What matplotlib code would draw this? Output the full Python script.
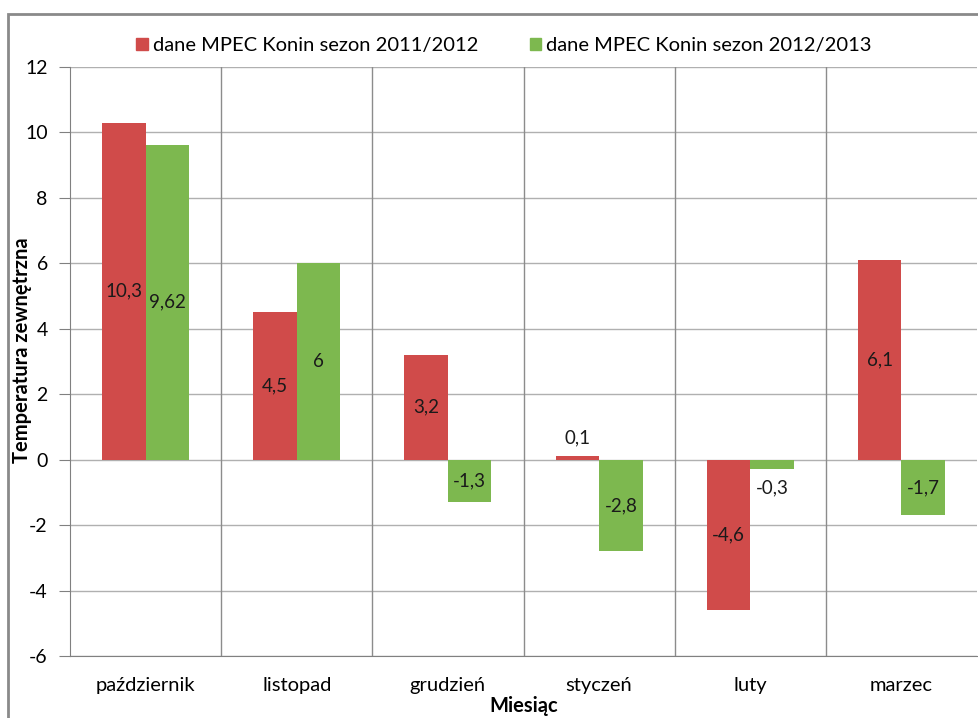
import matplotlib.pyplot as plt
from matplotlib.patches import Rectangle, Patch
import numpy as np

plt.rcParams['font.family'] = ['Lato', 'DejaVu Sans']

months = ['październik', 'listopad', 'grudzień', 'styczeń', 'luty', 'marzec']
season_1 = [10.3, 4.5, 3.2, 0.1, -4.6, 6.1]
season_2 = [9.62, 6, -1.3, -2.8, -0.3, -1.7]
labels_1 = ['10,3', '4,5', '3,2', '0,1', '-4,6', '6,1']
labels_2 = ['9,62', '6', '-1,3', '-2,8', '-0,3', '-1,7']
series_names = ['dane MPEC Konin sezon 2011/2012', 'dane MPEC Konin sezon 2012/2013']

red = '#D04B4A'
green = '#7DB84F'

fig = plt.figure(figsize=(9.79, 7.18), dpi=100)
ax = fig.add_axes([0.0715, 0.0864, 0.9265, 0.8203])

# outer chart frame (partly cut off in the original)
fig.patches.append(Rectangle((8 / 979, -0.05), 1.2, 1 - 14 / 718 + 0.05,
                             transform=fig.transFigure, fill=False,
                             edgecolor='#8a8a8a', linewidth=2))

x = np.arange(len(months))
w = 0.288
b1 = ax.bar(x - w / 2, season_1, w, color=red, zorder=3)
b2 = ax.bar(x + w / 2, season_2, w, color=green, zorder=3)

def put_labels(bars, vals, texts):
    for bar, v, t in zip(bars, vals, texts):
        cx = bar.get_x() + bar.get_width() / 2
        if abs(v) < 0.5:
            y = v + (0.55 if v >= 0 else -0.55)
        else:
            y = v / 2
        ax.text(cx, y, t, ha='center', va='center', fontsize=13.5,
                color='#1a1a1a', zorder=4)

put_labels(b1, season_1, labels_1)
put_labels(b2, season_2, labels_2)

ax.set_ylim(-6, 12)
ax.set_xlim(-0.5, len(months) - 0.5)
ax.set_yticks(range(-6, 13, 2))
ax.set_yticklabels([str(v) for v in range(-6, 13, 2)])
ax.set_xticks(x)
ax.set_xticklabels(months)
ax.tick_params(axis='x', length=0, labelsize=14.5, pad=15)
ax.tick_params(axis='y', length=8, labelsize=14, color='#808080', pad=8)

# grid: horizontal at ticks, vertical at category boundaries
for yv in range(-6, 13, 2):
    ax.axhline(yv, color='#b0b0b0', linewidth=1, zorder=1)
for xv in np.arange(0.5, len(months) - 0.5, 1):
    ax.axvline(xv, color='#8c8c8c', linewidth=1, zorder=1)

for side in ['top', 'right']:
    ax.spines[side].set_visible(False)
ax.spines['left'].set_color('#808080')
ax.spines['bottom'].set_color('#808080')

ax.set_ylabel('Temperatura zewnętrzna', fontsize=14.5, fontweight='bold')
ax.yaxis.set_label_coords(-0.042, 0.52)
ax.set_xlabel('Miesiąc', fontsize=14.5, fontweight='bold', va='top')
ax.xaxis.set_label_coords(0.5, -0.068)

handles = [Patch(color=red), Patch(color=green)]
fig.legend(handles, series_names, loc='center', bbox_to_anchor=(0.515, 0.936),
           ncol=2, frameon=False, fontsize=14.5, handlelength=0.55,
           handleheight=0.55, handletextpad=0.25, columnspacing=2.6)

fig.savefig('out.png', dpi=100)
